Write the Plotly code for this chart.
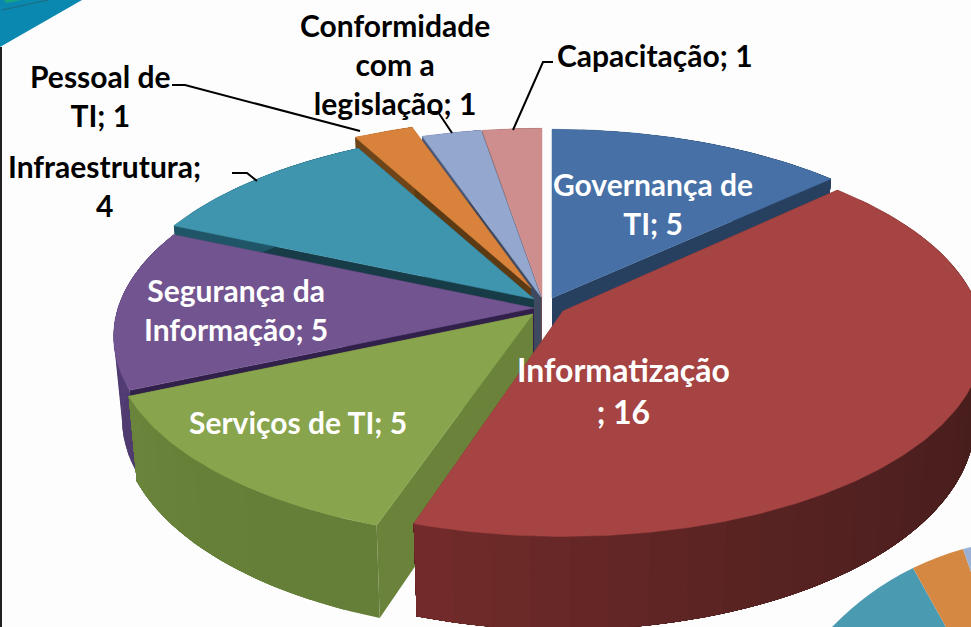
import math
import plotly.graph_objects as go

# ---- data ----
categories = ["Governança de TI", "Informatização", "Serviços de TI", "Segurança da Informação",
              "Infraestrutura", "Pessoal de TI", "Conformidade com a legislação", "Capacitação"]
values = [5, 16, 5, 5, 4, 1, 1, 1]
label_texts = ["Governança de<br>TI; 5", "Informatização<br>; 16", "Serviços de TI; 5",
               "Segurança da<br>Informação; 5", "Infraestrutura;<br>4", "Pessoal de<br>TI; 1",
               "Conformidade<br>com a<br>legislação; 1", "Capacitação; 1"]

# ---- style ----
top_colors = ["#4670a6", "#a54442", "#88a44c", "#725490", "#3f94ae", "#d9823c", "#93a7cf", "#cf8e8e"]
wall_start = ["#27405f", "#421c1b", "#657f38", "#4f3b70", "#1f5566", "#6e4519", "#4a5673", "#7a5555"]
wall_end = ["#27405f", "#742c2b", "#6b853b", "#5f4a84", "#1f5566", "#6e4519", "#4a5673", "#7a5555"]
cut_colors = ["#27405f", "#6a2a28", "#6a8239", "#30204a", "#173c47", "#5c3a14", "#3f4a60", "#6c4a4a"]
text_colors = ["white", "white", "white", "white", "black", "black", "black", "black"]
label_sizes = [30, 32, 30, 30, 30, 30, 30, 30]

# ---- layout of the projected pie (pixel space) ----
tips = [(552, 298), (563, 311), (533, 314), (534, 308), (534, 299), (531, 288), (541, 297), (542, 297)]
slice_turn_deg = [0, -0.9, 0, 0, 0, 0, 0, 0]
RX, RY, PERSP, DEPTH, SHRINK = 416, 193, 0.144, 80, 0.98
label_pos = [(653, 203), (623, 390), (298, 422), (236, 309), (104, 185), (100, 95), (395, 64), (655, 55)]
leaders = [[(172, 85), (185, 85), (360, 131)],
           [(428, 112), (438, 112), (452, 133)],
           [(553, 62), (543, 62), (513, 130)],
           [(232, 173), (247, 173), (257, 181)]]
draw_order = [7, 6, 5, 4, 3, 2, 0, 1]
FONT = "Lato"


def project(tip, a):
    u, v = math.sin(a), math.cos(a)
    s = 1 / (1 + PERSP * v)
    return tip[0] + RX * u * s, tip[1] - RY * v * s, s


def lower(tip, p, s=1.0):
    return tip[0] + (p[0] - tip[0]) * SHRINK, p[1] + DEPTH * s


def mix(c1, c2, t):
    a = [int(c1[i:i + 2], 16) for i in (1, 3, 5)]
    b = [int(c2[i:i + 2], 16) for i in (1, 3, 5)]
    return "#" + "".join(f"{round(x + (y - x) * t):02x}" for x, y in zip(a, b))


fig = go.Figure()


def poly(pts, color, width=0.0):
    xs = [p[0] for p in pts] + [pts[0][0]]
    ys = [p[1] for p in pts] + [pts[0][1]]
    fig.add_trace(go.Scatter(x=xs, y=ys, mode="lines", fill="toself", fillcolor=color,
                             line=dict(color=color, width=width), hoverinfo="skip", showlegend=False))


total = sum(values)
starts = [sum(values[:i]) / total * 2 * math.pi for i in range(len(values))]
for i in draw_order:
    a0 = starts[i] + math.radians(slice_turn_deg[i])
    a1 = a0 + values[i] / total * 2 * math.pi
    tip = tips[i]
    tip_low = lower(tip, tip)
    for a in (a0, a1):
        x, y, s = project(tip, a)
        poly([tip, (x, y), lower(tip, (x, y), s), tip_low], cut_colors[i])
    # The outer wall is painted as overlapping bands, each running to the slice end,
    # so no seams show between neighbouring shades.
    n = max(4, int(values[i] * 2))
    for k in range(n):
        b0 = a0 + (a1 - a0) * k / n
        m = 24
        arc = [project(tip, b0 + (a1 - b0) * j / m) for j in range(m + 1)]
        outline = [(p[0], p[1]) for p in arc] + [lower(tip, (p[0], p[1]), p[2]) for p in reversed(arc)]
        t = ((k + 0.5) / n) ** 2.5
        poly(outline, mix(wall_start[i], wall_end[i], t))
    n = max(10, values[i] * 12)
    arc = [project(tip, a0 + (a1 - a0) * k / n)[:2] for k in range(n + 1)]
    poly([tip] + arc, top_colors[i], 0.5)

for line in leaders:
    fig.add_trace(go.Scatter(x=[p[0] for p in line], y=[p[1] for p in line], mode="lines",
                             line=dict(color="black", width=2), hoverinfo="skip", showlegend=False))

for i, text in enumerate(label_texts):
    fig.add_annotation(x=label_pos[i][0], y=label_pos[i][1], text=text, showarrow=False,
                       font=dict(family=FONT, size=label_sizes[i], color=text_colors[i], weight="bold"),
                       align="center", xanchor="center", yanchor="middle")

shapes = [
    dict(type="path", path="M0,0 L82,0 L0,47 Z", fillcolor="#0a88b0", line=dict(width=0), layer="below"),
    dict(type="path", path="M4,0 L22,0 L6,3 Z", fillcolor="#17a77e", line=dict(width=0), layer="below"),
    dict(type="line", x0=2, x1=48, y0=10, y1=0, line=dict(color="#1f6c80", width=1.2), layer="below"),
    dict(type="line", x0=1, x1=1, y0=47, y1=627, line=dict(color="#222222", width=2), layer="below"),
    dict(type="path", path="M832,627 Q868,590 913,568 L946,627 Z", fillcolor="#4a9ab2", line=dict(width=0), layer="below"),
    dict(type="path", path="M913,568 Q938,556 963,549 L971,572 L971,627 L946,627 Z", fillcolor="#d58841", line=dict(width=0), layer="below"),
    dict(type="path", path="M963,549 L971,547 L971,572 Z", fillcolor="#9ab0d4", line=dict(width=0), layer="below"),
]

fig.update_layout(
    width=971, height=627, margin=dict(l=0, r=0, t=0, b=0), showlegend=False,
    paper_bgcolor="#fdfdfd", plot_bgcolor="#fdfdfd", shapes=shapes,
    xaxis=dict(range=[0, 971], visible=False, fixedrange=True),
    yaxis=dict(range=[627, 0], visible=False, fixedrange=True),
)
fig.write_html("out.html", config={"displayModeBar": False},
               post_script="document.body.style.margin='0';document.body.style.overflow='hidden';")
